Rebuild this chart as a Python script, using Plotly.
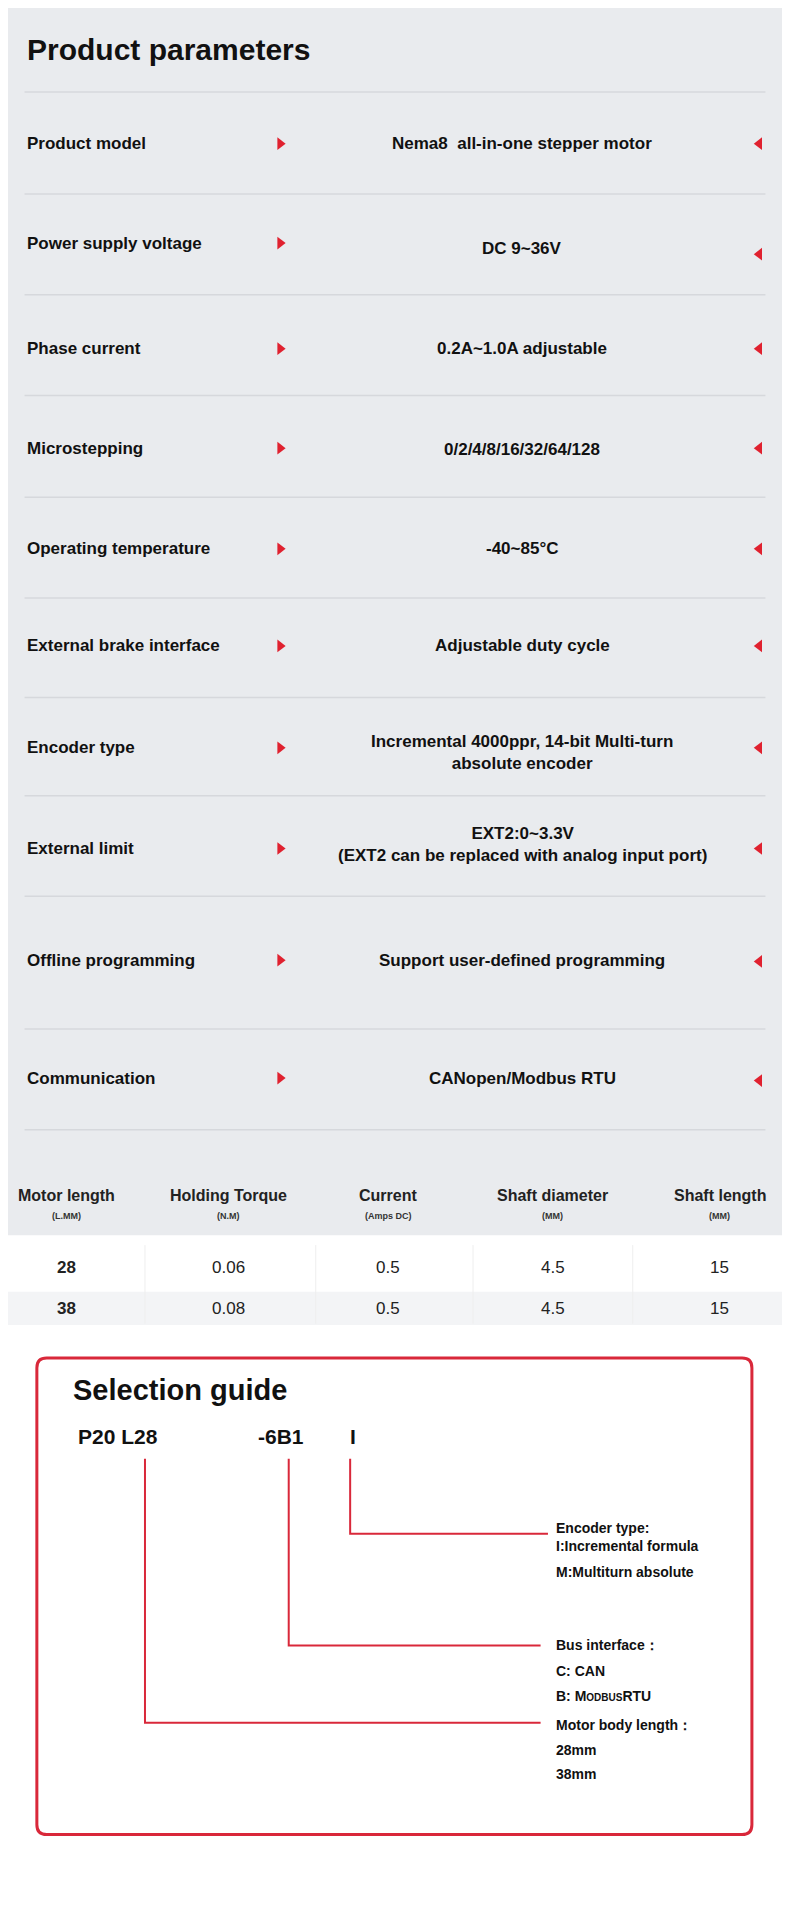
import plotly.graph_objects as go

W, H = 790, 1926
SX, SY = 790 / 643, 1926 / 1545 * 0.985
OFF = 8  # page body margin

# parameter table
param_labels = ["Product model", "Power supply voltage", "Phase current", "Microstepping",
                "Operating temperature", "External brake interface", "Encoder type",
                "External limit", "Offline programming", "Communication"]
param_values = ["Nema8  all-in-one stepper motor", "DC 9~36V", "0.2A~1.0A adjustable",
                "0/2/4/8/16/32/64/128", "-40~85°C", "Adjustable duty cycle",
                "Incremental 4000ppr, 14-bit Multi-turn<br>absolute encoder",
                "EXT2:0~3.3V<br>(EXT2 can be replaced with analog input port)",
                "Support user-defined programming", "CANopen/Modbus RTU"]
label_y = [117, 198, 284, 365, 447, 526, 609, 691, 782, 878]
value_y = [117, 202, 284, 366, 447, 526, 613, 688, 782, 878]
right_arrow_y = [117, 207, 284, 365, 447, 526, 609, 691, 783, 880]
sep_y = [75, 158, 240, 322, 405, 487, 568, 648, 730, 838, 920]

# spec table
spec_headers = ["Motor length", "Holding Torque", "Current", "Shaft diameter", "Shaft length"]
spec_units = ["(L.MM)", "(N.M)", "(Amps DC)", "(MM)", "(MM)"]
spec_rows = [["28", "0.06", "0.5", "4.5", "15"],
             ["38", "0.08", "0.5", "4.5", "15"]]
col_x = [54, 186, 316, 450, 586]
row_y = [1032, 1066]

# selection guide
code_parts = [("P20 L28", 62), ("-6B1", 208), ("I", 283)]
guide_blocks = [
    (["Encoder type:", "I:Incremental formula", "M:Multiturn absolute"], [1244, 1259, 1280]),
    (["Bus interface：", "C: CAN", "B: M<span style='font-size:10px'>ODBUS</span>RTU"], [1340, 1361, 1381]),
    (["Motor body length：", "28mm", "38mm"], [1405, 1425, 1445]),
]
leaders = [(285, 1249, 446), (235, 1340, 440), (118, 1403, 440)]

RED = "#d9283a"
FONT = "Liberation Sans"

def X(v): return v * SX
def Y(v): return v * SY

shapes, ann = [], []
shapes.append(dict(type="rect", x0=0, x1=W + 20, y0=0, y1=Y(1006), fillcolor="#e9ebee", line_width=0, layer="below"))
shapes.append(dict(type="rect", x0=0, x1=W + 20, y0=Y(1052), y1=Y(1079), fillcolor="#f3f4f6", line_width=0, layer="below"))
for y in sep_y:
    shapes.append(dict(type="line", x0=X(20), x1=X(623), y0=Y(y), y1=Y(y), line=dict(color="#d6d8dc", width=1.5)))
for x in [118, 257, 385, 515]:
    shapes.append(dict(type="line", x0=X(x), x1=X(x), y0=Y(1014), y1=Y(1078), line=dict(color="#eeeeee", width=1)))

ann.append(dict(x=X(20), y=Y(40), text="<b>Product parameters</b>", xanchor="left",
                font=dict(size=30, color="#111")))
for lab, v, ly, vy in zip(param_labels, param_values, label_y, value_y):
    ann.append(dict(x=X(20), y=Y(ly), text="<b>" + lab + "</b>", xanchor="left", font=dict(size=17, color="#111")))
    ann.append(dict(x=X(425), y=Y(vy), text="<b>" + v + "</b>", xanchor="center", align="center",
                    font=dict(size=17, color="#111"), yanchor="middle"))

for h, u, cx in zip(spec_headers, spec_units, col_x):
    ann.append(dict(x=X(cx), y=Y(974), text="<b>" + h + "</b>", font=dict(size=16, color="#222")))
    ann.append(dict(x=X(cx), y=Y(990), text="<b>" + u + "</b>", font=dict(size=9, color="#333")))
for row, ry in zip(spec_rows, row_y):
    for i, (val, cx) in enumerate(zip(row, col_x)):
        t = "<b>" + val + "</b>" if i == 0 else val
        ann.append(dict(x=X(cx), y=Y(ry), text=t, font=dict(size=17, color="#222")))

shapes.append(dict(type="path", path=f"M {X(38)},{Y(1106)} L {X(604)},{Y(1106)} Q {X(612)},{Y(1106)} {X(612)},{Y(1114)} "
                   f"L {X(612)},{Y(1486)} Q {X(612)},{Y(1494)} {X(604)},{Y(1494)} L {X(38)},{Y(1494)} "
                   f"Q {X(30)},{Y(1494)} {X(30)},{Y(1486)} L {X(30)},{Y(1114)} Q {X(30)},{Y(1106)} {X(38)},{Y(1106)} Z",
                   line=dict(color=RED, width=3)))
ann.append(dict(x=X(58), y=Y(1132), text="<b>Selection guide</b>", xanchor="left",
                font=dict(size=29, color="#111")))
for txt, x in code_parts:
    ann.append(dict(x=X(x), y=Y(1170), text="<b>" + txt + "</b>", xanchor="left", font=dict(size=21, color="#111")))
for x, yh, xe in leaders:
    shapes.append(dict(type="path", path=f"M {X(x)},{Y(1188)} L {X(x)},{Y(yh)} L {X(xe)},{Y(yh)}",
                       line=dict(color=RED, width=2)))
for lines, ys in guide_blocks:
    for t, y in zip(lines, ys):
        ann.append(dict(x=X(451), y=Y(y), text="<b>" + t + "</b>", xanchor="left", font=dict(size=14, color="#111")))

fig = go.Figure()
fig.add_trace(go.Scatter(x=[X(228)] * len(label_y), y=[Y(v) for v in label_y], mode="markers",
                         marker=dict(symbol="triangle-right", size=11, color="#e0212f"), hoverinfo="skip"))
fig.add_trace(go.Scatter(x=[X(618)] * len(right_arrow_y), y=[Y(v) for v in right_arrow_y], mode="markers",
                         marker=dict(symbol="triangle-left", size=11, color="#e0212f"), hoverinfo="skip"))
for a in ann:
    a.setdefault("showarrow", False)
    a.setdefault("yanchor", "middle")
    a.setdefault("xanchor", "center")
    a["xref"], a["yref"] = "x", "y"
fig.update_layout(width=W, height=H, margin=dict(l=0, r=0, t=0, b=0), showlegend=False,
                  paper_bgcolor="white", plot_bgcolor="white", shapes=shapes, annotations=ann,
                  font=dict(family=FONT),
                  xaxis=dict(range=[OFF, W + OFF], visible=False, fixedrange=True),
                  yaxis=dict(range=[H + OFF, OFF], visible=False, fixedrange=True))
fig.write_html("out.html", config=dict(displayModeBar=False))
